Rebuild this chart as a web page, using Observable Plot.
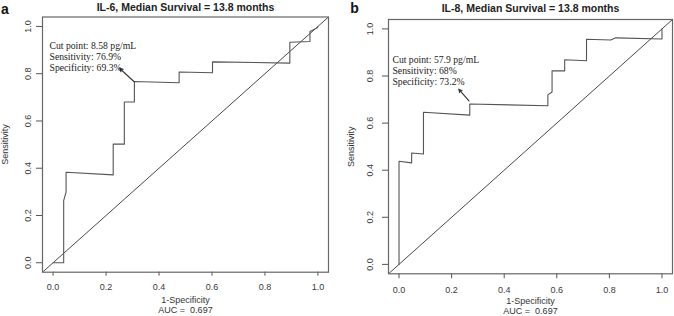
<!DOCTYPE html>
<html>
<head>
<meta charset="utf-8">
<script src="https://cdn.jsdelivr.net/npm/d3@7"></script>
<script src="https://cdn.jsdelivr.net/npm/@observablehq/plot@0.6"></script>
<style>
  body { margin: 0; background: #fff; }
  #wrap { display: flex; width: 674px; height: 316px; overflow: hidden; }
  #wrap svg { display: block; flex: none; }
</style>
</head>
<body>
<div id="wrap"></div>
<script>
// ---------- data ----------
const panelLetters = ["a", "b"];
const titles = ["IL-6, Median Survival = 13.8 months", "IL-8, Median Survival = 13.8 months"];
const xLabel = "1-Specificity";
const yLabel = "Sensitivity";
const aucLabels = ["AUC =  0.697", "AUC =  0.697"];
const tickValues = [0, 0.2, 0.4, 0.6, 0.8, 1.0];
const axisDomain = [-0.04, 1.04];

// IL-6 ROC curve (1-specificity, sensitivity)
const il6Fpr = [0, 0.040, 0.040, 0.049, 0.049, 0.227, 0.227, 0.269, 0.269, 0.307, 0.307, 0.476, 0.476, 0.602, 0.602, 0.894, 0.894, 0.970, 0.970, 0.997, 1.0];
const il6Tpr = [0, 0, 0.263, 0.299, 0.383, 0.372, 0.502, 0.502, 0.680, 0.680, 0.767, 0.762, 0.807, 0.804, 0.850, 0.845, 0.933, 0.936, 0.979, 0.994, 1.0];

// IL-8 ROC curve
const il8Fpr = [0, 0, 0.048, 0.048, 0.093, 0.093, 0.269, 0.269, 0.566, 0.566, 0.582, 0.582, 0.630, 0.630, 0.713, 0.713, 0.805, 0.824, 1.0, 1.0];
const il8Tpr = [0, 0.438, 0.431, 0.473, 0.469, 0.646, 0.634, 0.681, 0.674, 0.720, 0.732, 0.822, 0.822, 0.869, 0.865, 0.956, 0.953, 0.962, 0.957, 1.0];

// Cut-point annotations
const il6CutText = ["Cut point: 8.58 pg/mL", "Sensitivity: 76.9%", "Specificity: 69.3%"];
const il8CutText = ["Cut point: 57.9 pg/mL", "Sensitivity: 68%", "Specificity: 73.2%"];
const il6CutLabelAt = [-0.0136, 0.873];
const il8CutLabelAt = [-0.025, 0.822];
const il6ArrowFrom = [0.306, 0.766], il6ArrowTo = [0.251, 0.823];
const il8ArrowFrom = [0.266, 0.694], il8ArrowTo = [0.227, 0.744];

// ---------- layout ----------
const panels = [
  {
    letter: panelLetters[0], title: titles[0], auc: aucLabels[0],
    fpr: il6Fpr, tpr: il6Tpr, cut: il6CutText, cutAt: il6CutLabelAt,
    arrowFrom: il6ArrowFrom, arrowTo: il6ArrowTo,
    margin: {left: 42, right: 9, top: 16.5, bottom: 44.3},
    xTick: {size: 4, pad: 7}, yTick: {size: 6, pad: 6},
    titleDy: -13.2, letterDx: -41.5, letterDy: -3.5, xLabDy: 23
  },
  {
    letter: panelLetters[1], title: titles[1], auc: aucLabels[1],
    fpr: il8Fpr, tpr: il8Tpr, cut: il8CutText, cutAt: il8CutLabelAt,
    arrowFrom: il8ArrowFrom, arrowTo: il8ArrowTo,
    margin: {left: 51, right: 2, top: 19, bottom: 42.7},
    xTick: {size: 5, pad: 8}, yTick: {size: 6, pad: 10},
    titleDy: -15, letterDx: -38.3, letterDy: -6.3, xLabDy: 22.5
  }
];

const fmt = d3.format(".1f");
const wrap = document.getElementById("wrap");

for (const p of panels) {
  const pts = p.fpr.map((x, i) => ({x, y: p.tpr[i]}));
  const chart = Plot.plot({
    width: 337,
    height: 316,
    marginLeft: p.margin.left,
    marginRight: p.margin.right,
    marginTop: p.margin.top,
    marginBottom: p.margin.bottom,
    x: {domain: axisDomain},
    y: {domain: axisDomain},
    style: {fontFamily: "'Liberation Sans', Arial, sans-serif", color: "#3a3a3a", background: "transparent", overflow: "visible"},
    marks: [
      Plot.axisX({ticks: tickValues, tickFormat: fmt, tickSize: p.xTick.size, tickPadding: p.xTick.pad, fontSize: 9, label: null, stroke: "#555"}),
      Plot.axisY({ticks: tickValues, tickFormat: fmt, tickRotate: -90, tickSize: p.yTick.size, tickPadding: p.yTick.pad, fontSize: 9, label: null, stroke: "#555"}),
      // reference diagonal (abline 0,1)
      Plot.line(axisDomain, {x: d => d, y: d => d, stroke: "#333", strokeWidth: 0.9, clip: true}),
      // ROC curve
      Plot.line(pts, {x: "x", y: "y", stroke: "#555", strokeWidth: 1.1, curve: "linear"}),
      // arrow
      Plot.arrow([0], {x1: () => p.arrowFrom[0], y1: () => p.arrowFrom[1], x2: () => p.arrowTo[0], y2: () => p.arrowTo[1], stroke: "#333", strokeWidth: 1.1, headLength: 5, headAngle: 50}),
      // annotation
      Plot.text([p.cut.join("\n")], {x: () => p.cutAt[0], y: () => p.cutAt[1], text: d => d, textAnchor: "start", lineAnchor: "middle", lineHeight: 1.12, fontFamily: "'Liberation Serif', 'Times New Roman', serif", fontSize: 9.7, fill: "#222"}),
      // title
      Plot.text([p.title], {frameAnchor: "top", dy: p.titleDy, lineAnchor: "top", fontWeight: "bold", fontSize: 10.5, fill: "#222"}),
      // panel letter
      Plot.text([p.letter], {frameAnchor: "top-left", dx: p.letterDx, dy: p.letterDy, textAnchor: "start", lineAnchor: "bottom", fontWeight: "bold", fontSize: 14, fill: "#111"}),
      // x label + AUC
      Plot.text([xLabel + "\n" + p.auc], {frameAnchor: "bottom", dy: p.xLabDy, lineAnchor: "top", lineHeight: 1.17, fontSize: 9, fill: "#333"}),
      // y label
      Plot.text([yLabel], {frameAnchor: "left", dx: -37.5, rotate: -90, textAnchor: "middle", lineAnchor: "middle", fontSize: 9, fill: "#333"}),
      Plot.frame({stroke: "#666", strokeWidth: 1.2})
    ]
  });
  wrap.appendChild(chart);
}
</script>
</body>
</html>
